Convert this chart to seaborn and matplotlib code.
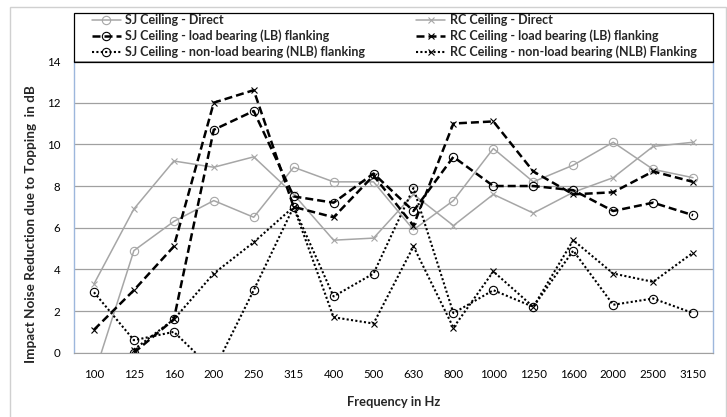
import numpy as np
import pandas as pd
import matplotlib
matplotlib.use("Agg")
import matplotlib.pyplot as plt
from matplotlib.patches import Rectangle
import seaborn as sns

freqs = ["100", "125", "160", "200", "250", "315", "400", "500", "630", "800",
         "1000", "1250", "1600", "2000", "2500", "3150"]
nan = np.nan
sj_direct = [-1.1, 4.9, 6.3, 7.3, 6.5, 8.9, 8.2, 8.2, 5.9, 7.3, 9.8, 8.2, 9.0, 10.1, 8.8, 8.4]
rc_direct = [3.3, 6.9, 9.2, 8.9, 9.4, 7.6, 5.4, 5.5, 7.6, 6.1, 7.6, 6.7, 7.7, 8.4, 9.9, 10.1]
sj_lb = [nan, 0.0, 1.6, 10.7, 11.6, 7.5, 7.2, 8.6, 6.8, 9.4, 8.0, 8.0, 7.8, 6.8, 7.2, 6.6]
rc_lb = [1.1, 3.0, 5.1, 12.0, 12.6, 7.0, 6.5, 8.5, 6.1, 11.0, 11.1, 8.7, 7.6, 7.7, 8.7, 8.2]
sj_nlb = [2.9, 0.6, 1.0, -0.85, 3.0, 7.0, 2.7, 3.8, 7.9, 1.9, 3.0, 2.2, 4.9, 2.3, 2.6, 1.9]
rc_nlb = [nan, 0.15, 1.6, 3.8, 5.3, 7.0, 1.7, 1.4, 5.1, 1.2, 3.9, 2.2, 5.4, 3.8, 3.4, 4.8]

labels = ["SJ Ceiling - Direct", "RC Ceiling - Direct",
          "SJ Ceiling - load bearing (LB) flanking", "RC Ceiling - load bearing (LB) flanking",
          "SJ Ceiling - non-load bearing (NLB) flanking", "RC Ceiling - non-load bearing (NLB) Flanking"]
series = [sj_direct, rc_direct, sj_lb, rc_lb, sj_nlb, rc_nlb]

sns.set_style("white")
plt.rcParams["font.family"] = ["Lato", "DejaVu Sans"]

W, H = 727, 417
fig = plt.figure(figsize=(W / 100, H / 100), dpi=100)
ax = fig.add_axes([74 / W, 1 - 352.7 / H, (713 - 74) / W, (352.7 - 61) / H])

xpos = np.arange(len(freqs))
gray = "#A6A6A6"
styles = [
    dict(color=gray, lw=1.1, marker="o", ms=6, dashes=None),
    dict(color=gray, lw=1.1, marker="x", ms=5, dashes=None),
    dict(color="black", lw=1.8, marker="o", ms=6, dashes=(3.2, 1.6)),
    dict(color="black", lw=1.8, marker="x", ms=5, dashes=(3.2, 1.6)),
    dict(color="black", lw=1.5, marker="o", ms=6, dashes=(1, 1.1)),
    dict(color="black", lw=1.5, marker="x", ms=5, dashes=(1, 1.1)),
]

handles = []
for vals, lab, st in zip(series, labels, styles):
    df = pd.DataFrame({"x": xpos, "y": vals})
    sns.lineplot(data=df, x="x", y="y", ax=ax, color=st["color"], linewidth=st["lw"],
                 marker=st["marker"], markersize=st["ms"], markerfacecolor="none",
                 markeredgecolor=st["color"], markeredgewidth=0.8, label=lab, legend=False)
    line = ax.lines[-1]
    if st["dashes"] is not None:
        line.set_dashes(st["dashes"])
    handles.append(line)

ax.set_xlim(-0.5, len(freqs) - 0.5)
ax.set_ylim(0, 14)
ax.set_yticks(np.arange(0, 15, 2))
ax.set_xticks(xpos)
ax.set_xticklabels(freqs)
ax.yaxis.grid(True, color="#A0A0A0", linewidth=0.9)
ax.xaxis.grid(False)
ax.tick_params(axis="both", length=0, labelsize=8.3, colors="black")
ax.tick_params(axis="y", pad=10)
ax.tick_params(axis="x", pad=12)
for s in ["left", "right"]:
    ax.spines[s].set_color("#9DB7DC")
    ax.spines[s].set_linewidth(1.0)
ax.spines["bottom"].set_color("#A0A0A0")
ax.spines["top"].set_visible(False)

ax.set_xlabel("Frequency in Hz", fontsize=9.3, fontweight="bold", va="center")
ax.xaxis.set_label_coords(0.5, -0.168)
ax.set_ylabel("Impact Noise Reduction due to Topping  in dB", fontsize=9.7,
              fontweight="bold", va="center")
ax.yaxis.set_label_coords(-0.067, 0.44)

fs = 9.0
order = [0, 2, 4, 1, 3, 5]
leg = ax.legend([handles[i] for i in order], [labels[i] for i in order], ncol=2,
                loc="upper left", bbox_to_anchor=(92 / W, 1 - 14.0 / H),
                bbox_transform=fig.transFigure,
                borderaxespad=0, frameon=False, handlelength=2.3,
                handletextpad=0.35, labelspacing=0.28, borderpad=0.0,
                columnspacing=4.1,
                prop={"family": ["Lato", "DejaVu Sans"], "weight": "bold", "size": fs})

# legend frame
fig.add_artist(Rectangle((74 / W, 1 - 61.5 / H), (713 - 74) / W, (61.5 - 13.3) / H,
                         transform=fig.transFigure, fill=False, edgecolor="black",
                         linewidth=0.9))
# outer chart border
fig.add_artist(Rectangle((10 / W, -0.02), (726 - 10) / W, (H - 7) / H + 0.02,
                         transform=fig.transFigure, fill=False, edgecolor="#D0D0D0",
                         linewidth=1.0))

fig.savefig("out.png", dpi=100)
